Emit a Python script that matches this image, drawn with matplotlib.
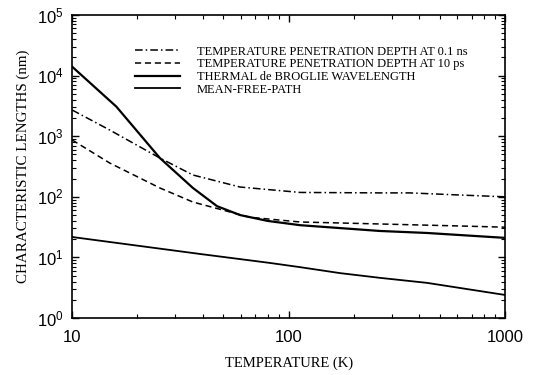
import matplotlib
matplotlib.use("Agg")
import matplotlib.pyplot as plt
from matplotlib.ticker import LogLocator, NullFormatter, FixedLocator, FixedFormatter

# values (T in K, lengths in nm)
t_ns = [10, 14.9, 25.4, 36.1, 59.6, 113, 264, 363, 618, 1000]
depth_ns = [2700, 1265, 437, 229, 145, 118, 116, 116, 107, 100]

t_ps = [10, 14.9, 25.4, 36.1, 66, 113, 264, 618, 1000]
depth_ps = [865, 361, 140, 82, 46, 38.4, 35.6, 33, 31.5]

t_db = [10, 16.0, 25.4, 36.1, 46.7, 59.6, 80, 113, 264, 436, 1000]
debroglie = [14000, 3070, 437, 140, 70, 50, 40, 34, 27.3, 25.3, 21]

t_mfp = [10, 38.9, 82, 113, 173, 264, 436, 1000]
mfp = [21.7, 11.4, 8.1, 6.9, 5.5, 4.6, 3.8, 2.4]

labels = ["TEMPERATURE PENETRATION DEPTH AT 0.1 ns",
          "TEMPERATURE PENETRATION DEPTH AT 10 ps",
          "THERMAL de BROGLIE WAVELENGTH",
          "MEAN-FREE-PATH"]

plt.rcParams["mathtext.fontset"] = "custom"
plt.rcParams["mathtext.rm"] = "Liberation Sans"
plt.rcParams["mathtext.it"] = "Liberation Sans"

serif = "Liberation Serif"

fig = plt.figure(figsize=(5.35, 3.75), dpi=100)
ax = fig.add_axes([0.135, 0.152, 0.809, 0.808])

ax.plot(t_ns, depth_ns, color="black", lw=1.1, ls=(0, (5, 2, 1, 2)), label=labels[0])
ax.plot(t_ps, depth_ps, color="black", lw=1.1, ls=(0, (4, 2.5)), label=labels[1])
ax.plot(t_db, debroglie, color="black", lw=1.6, label=labels[2])
ax.plot(t_mfp, mfp, color="black", lw=1.3, label=labels[3])

ax.set_xscale("log")
ax.set_yscale("log")
ax.set_xlim(10, 1000)
ax.set_ylim(1, 1e5)

ax.xaxis.set_major_locator(FixedLocator([10, 100, 1000]))
ax.xaxis.set_major_formatter(FixedFormatter(["10", "100", "1000"]))
ax.xaxis.set_minor_locator(LogLocator(base=10, subs=range(2, 10)))
ax.xaxis.set_minor_formatter(NullFormatter())

yt = [1, 10, 100, 1e3, 1e4, 1e5]
ax.yaxis.set_major_locator(FixedLocator(yt))
ax.yaxis.set_major_formatter(FixedFormatter([r"$10^{%d}$" % i for i in range(6)]))
ax.yaxis.set_minor_locator(LogLocator(base=10, subs=range(2, 10)))
ax.yaxis.set_minor_formatter(NullFormatter())

ax.tick_params(which="both", direction="in", top=True, right=True, color="black")
ax.tick_params(which="major", length=5, width=1.0, labelsize=12, pad=6)
ax.tick_params(axis="x", which="major", pad=9)
ax.tick_params(which="minor", length=3, width=0.8)
for lab in ax.get_xticklabels():
    lab.set_fontfamily("Liberation Sans")
for s in ax.spines.values():
    s.set_linewidth(1.2)

ax.set_xlabel("TEMPERATURE (K)", fontfamily=serif, fontsize=10.5, labelpad=8)
ax.set_ylabel("CHARACTERISTIC LENGTHS (nm)", fontfamily=serif, fontsize=10.8, labelpad=5)

ax.legend(loc="upper left", bbox_to_anchor=(0.134, 0.915), frameon=False,
          prop={"family": serif, "size": 9}, handlelength=3.6,
          handletextpad=1.35, labelspacing=0.05, borderaxespad=0)

fig.savefig("out.png", dpi=100)
